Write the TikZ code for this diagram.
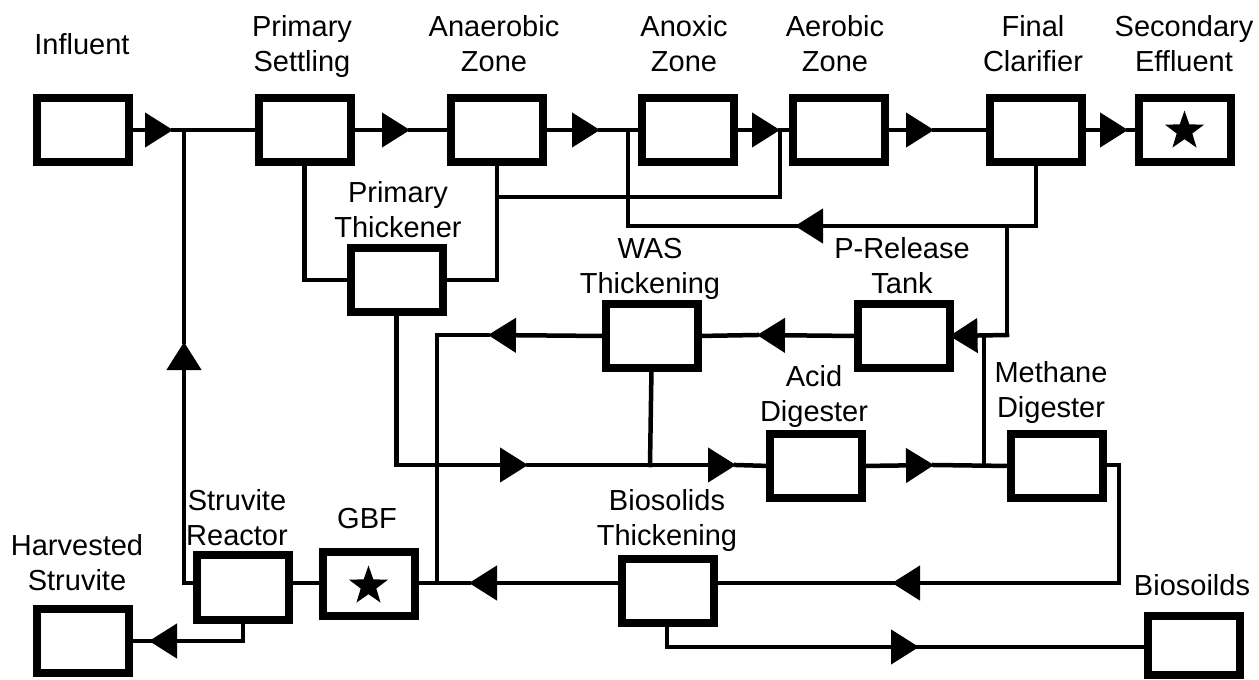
\documentclass[tikz,border=0pt]{standalone}
\usepackage{fontspec}
\setmainfont{Liberation Sans}
\usetikzlibrary{arrows.meta,shapes.geometric}
\tikzset{
  unit/.style={draw, line width=8pt, minimum width=92pt, minimum height=64.5pt, inner sep=0pt, outer sep=0pt},
  lbl/.style={font=\fontsize{29pt}{35pt}\selectfont, align=center, inner sep=0pt, anchor=base},
  conn/.style={line width=4.5pt, line cap=rect},
  tri/.style={conn, -{Triangle[length=28pt,width=34pt]}},
  starmark/.style={star, star points=5, star point ratio=2.5, fill=black, draw=none, minimum size=41pt, inner sep=0pt}
}
\begin{document}
\begin{tikzpicture}[x=1pt,y=-1pt]
\useasboundingbox (0,0) rectangle (1259,680);
% units
\node[unit] (infl) at (83,130) {};
\node[unit] (ps) at (304.5,130) {};
\node[unit] (az) at (497,130) {};
\node[unit] (anox) at (687.5,130) {};
\node[unit] (aer) at (839,130) {};
\node[unit] (fc) at (1036,130) {};
\node[unit] (se) at (1184.5,130) {};
\node[starmark] (sestar) at (1184.5,131) {};
\node[unit] (pt) at (396.5,280) {};
\node[unit] (was) at (651.5,336) {};
\node[unit] (prt) at (903.5,336) {};
\node[unit] (acid) at (816,466) {};
\node[unit] (md) at (1056.5,466) {};
\node[unit] (bt) at (667.5,591) {};
\node[unit] (sr) at (242.5,587.5) {};
\node[unit] (gbf) at (368.5,584) {};
\node[starmark] (gbfstar) at (368.5,586) {};
\node[unit] (hs) at (83,641) {};
\node[unit, minimum height=59pt] (bio) at (1194,645.5) {};
% labels (anchor = baseline of last line)
\node[lbl] (linfl) at (82,54) {Influent};
\node[lbl] (lps) at (302,71) {Primary\\Settling};
\node[lbl] (laz) at (494,71) {Anaerobic\\Zone};
\node[lbl] (lanox) at (684,71) {Anoxic\\Zone};
\node[lbl] (laer) at (835,71) {Aerobic\\Zone};
\node[lbl] (lfc) at (1033,71) {Final\\Clarifier};
\node[lbl] (lse) at (1184,71) {Secondary\\Effluent};
\node[lbl] (lpt) at (398,237) {Primary\\Thickener};
\node[lbl] (lwas) at (650,293) {WAS\\Thickening};
\node[lbl] (lprt) at (902,293) {P-Release\\Tank};
\node[lbl] (lacid) at (814,421) {Acid\\Digester};
\node[lbl] (lmd) at (1051,417) {Methane\\Digester};
\node[lbl] (lsr) at (237,545) {Struvite\\Reactor};
\node[lbl] (lgbf) at (367,528) {GBF};
\node[lbl] (lhs) at (77,590) {Harvested\\Struvite};
\node[lbl] (lbt) at (667,545) {Biosolids\\Thickening};
\node[lbl] (lbio) at (1192,595) {Biosoilds};
% coordinates
\coordinate (t1) at (173,130);
\coordinate (j1) at (184,130);
\coordinate (t2) at (410,130);
\coordinate (t3) at (600,130);
\coordinate (j3) at (628,130);
\coordinate (t4) at (780,130);
\coordinate (t5) at (934,130);
\coordinate (t6) at (1128,130);
\coordinate (k3) at (497,197);
\coordinate (k4) at (780,197);
\coordinate (r1) at (1036,226);
\coordinate (rt) at (795,226);
\coordinate (r2) at (628,226);
\coordinate (r3) at (1007,226);
\coordinate (r4) at (1007,335);
\coordinate (r5) at (984,335);
\coordinate (tw) at (757,335);
\coordinate (tw2) at (488,335);
\coordinate (w1) at (437,335);
\coordinate (w2) at (437,583);
\coordinate (d0) at (396.5,465);
\coordinate (td1) at (528,465);
\coordinate (d1) at (650,465);
\coordinate (td2) at (736,465);
\coordinate (td3) at (934,465);
\coordinate (d2) at (984,465);
\coordinate (m1) at (1119,465);
\coordinate (m2) at (1119,583);
\coordinate (tm) at (892,583);
\coordinate (tg) at (469,583);
\coordinate (g1) at (184,583);
\coordinate (tu) at (184,342);
\coordinate (s1) at (243,641);
\coordinate (ts) at (149,641);
\coordinate (bb1) at (667,647);
\coordinate (tb) at (919,647);
% main line
\draw[tri] (infl.east) -- (t1);
\draw[conn] (t1) -- (ps.west);
\draw[tri] (ps.east) -- (t2);
\draw[conn] (t2) -- (az.west);
\draw[tri] (az.east) -- (t3);
\draw[conn] (t3) -- (anox.west);
\draw[tri] (anox.east) -- (t4);
\draw[conn] (t4) -- (aer.west);
\draw[tri] (aer.east) -- (t5);
\draw[conn] (t5) -- (fc.west);
\draw[tri] (fc.east) -- (t6);
\draw[conn] (t6) -- (se.west);
% primary thickener loop
\draw[conn] (ps.south) |- (pt.west);
\draw[conn] (az.south) |- (pt.east);
\draw[conn] (k3) -- (k4) -- (t4);
% return from final clarifier
\draw[conn] (fc.south) -- (r1) -- (rt);
\draw[tri] (r1) -- (rt);
\draw[conn] (rt) -- (r2) -- (j3);
\draw[conn] (r3) -- (r4);
\draw[tri] (r4) -- (prt.east);
\draw[conn] (d2) -- (r5);
% WAS line
\draw[tri] (prt.west) -- (tw);
\draw[conn] (tw) -- (was.east);
\draw[tri] (was.west) -- (tw2);
\draw[conn] (tw2) -- (w1) -- (w2);
% digester line
\draw[conn] (pt.south) -- (d0);
\draw[tri] (d0) -- (td1);
\draw[conn] (td1) -- (d1);
\draw[conn] (was.south) -- (d1);
\draw[tri] (d1) -- (td2);
\draw[conn] (td2) -- (acid.west);
\draw[tri] (acid.east) -- (td3);
\draw[conn] (td3) -- (md.west);
\draw[conn] (md.east |- m1) -- (m1) -- (m2) -- (tm);
\draw[tri] (m2) -- (tm);
\draw[conn] (tm) -- (bt.east |- m2);
% biosolids / GBF line
\draw[tri] (bt.west |- w2) -- (tg);
\draw[conn] (tg) -- (gbf.east |- w2);
\draw[conn] (gbf.west |- w2) -- (sr.east |- w2);
\draw[conn] (sr.west |- w2) -- (g1);
\draw[tri] (g1) -- (tu);
\draw[conn] (tu) -- (j1);
% struvite harvest
\draw[conn] (sr.south -| s1) -- (s1) -- (ts);
\draw[tri] (s1) -- (ts);
\draw[conn] (ts) -- (hs.east |- s1);
% biosolids out
\draw[conn] (bt.south -| bb1) -- (bb1) -- (tb);
\draw[tri] (bb1) -- (tb);
\draw[conn] (tb) -- (bio.west |- bb1);
\end{tikzpicture}
\end{document}
